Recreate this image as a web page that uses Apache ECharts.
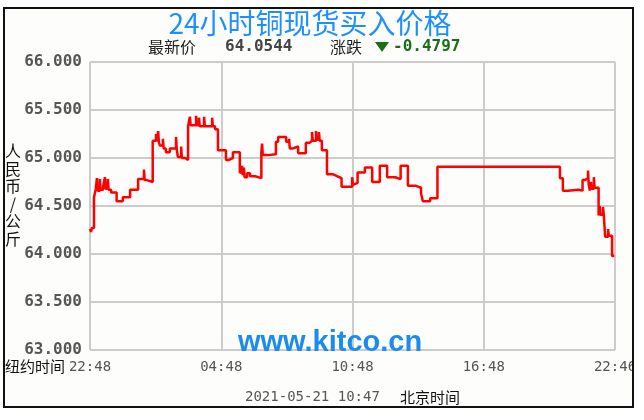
<!DOCTYPE html>
<html><head><meta charset="utf-8">
<script src="https://cdn.jsdelivr.net/npm/echarts@6/dist/echarts.min.js"></script>
<style>html,body{margin:0;padding:0;background:#fff}#c{width:644px;height:420px}</style>
</head><body><div id="c"></div>
<script>
// minutes since 22:48 (New York time axis start)
const times = [0,3,5,11,16,19,21,27,29,36,41,43,49,51,58,73,90,110,132,148,150,156,172,181,183,187,189,192,200,202,208,219,236,238,241,250,252,261,269,274,276,291,293,299,301,313,315,335,337,343,351,373,381,392,411,417,419,422,424,431,439,453,470,472,474,488,510,516,538,546,548,557,571,592,603,609,611,620,622,628,630,636,650,667,678,690,719,721,724,734,754,774,795,815,837,852,872,894,908,913,933,953,1289,1297,1311,1339,1351,1358,1366,1368,1371,1374,1376,1382,1384,1395,1398,1400,1407,1409,1413,1421,1423,1432,1438];
const prices = [64.26,64.23,64.27,64.59,64.68,64.79,64.66,64.78,64.67,64.70,64.80,64.68,64.78,64.67,64.64,64.55,64.59,64.67,64.78,64.88,64.77,64.75,65.18,65.25,65.17,65.28,65.16,65.13,65.20,65.10,65.06,65.10,65.22,65.09,65.01,65.12,65.00,64.98,65.33,65.43,65.34,65.44,65.34,65.42,65.33,65.43,65.33,65.42,65.33,65.30,65.08,64.98,65.00,65.06,64.85,64.92,64.82,64.90,64.80,64.84,64.81,64.79,65.06,65.15,65.03,65.04,65.17,65.22,65.17,65.20,65.10,65.12,65.05,65.16,65.18,65.27,65.18,65.28,65.19,65.27,65.18,65.08,64.83,64.81,64.79,64.70,64.80,64.72,64.74,64.85,64.90,64.75,64.92,64.80,64.78,64.92,64.71,64.69,64.63,64.55,64.58,64.91,64.79,64.66,64.67,64.66,64.77,64.79,64.87,64.72,64.66,64.75,64.68,64.80,64.69,64.40,64.50,64.41,64.49,64.42,64.18,64.26,64.19,63.98,63.98];
const xTickLabels = ['22:48','04:48','10:48','16:48','22:46'];
const yTicks = [63,63.5,64,64.5,65,65.5,66];
const titleText = '24小时铜现货买入价格';
const latestLabel = '最新价';
const latestValue = '64.0544';
const changeLabel = '涨跌';
const changeValue = '-0.4797';
const yName = '人民币/公斤';
const nyLabel = '纽约时间';
const stampText = '2021-05-21 10:47';
const bjLabel = '北京时间';
const watermark = 'www.kitco.cn';

const chart = echarts.init(document.getElementById('c'), null, {renderer:'canvas'});
const data = times.map((t,i)=>[t,prices[i]]);
const mono = '"DejaVu Sans Mono", monospace';
const cjk = '"Noto Sans CJK SC", sans-serif';
chart.setOption({
  animation:false,
  backgroundColor:'#fdfdfc',
  grid:{left:90,right:29,top:62,bottom:70},
  xAxis:{type:'value',min:0,max:1440,interval:360,
    axisLine:{show:false},axisTick:{show:false},
    splitLine:{show:true,lineStyle:{color:'#cccccc',width:2}},
    axisLabel:{margin:10,color:'#555',fontFamily:mono,fontSize:14,
      formatter:v=>xTickLabels[Math.round(v/360)]}},
  yAxis:{type:'value',min:yTicks[0],max:yTicks[yTicks.length-1],interval:0.5,
    axisLine:{show:false},axisTick:{show:false},
    splitLine:{show:true,lineStyle:{color:'#cccccc',width:2}},
    axisLabel:{margin:8,color:'#555',fontFamily:mono,fontWeight:'bold',fontSize:16,
      formatter:v=>v.toFixed(3)}},
  series:[{type:'line',step:'end',data:data,showSymbol:false,
    lineStyle:{color:'#ff0000',width:2.5},z:5}],
  graphic:[
    {type:'text',x:310,y:23,style:{text:titleText,font:'28px '+cjk,fill:'#1e8fff',textAlign:'center',textVerticalAlign:'middle'},z:50},
    {type:'text',x:148,y:47,style:{text:latestLabel,font:'16px '+cjk,fill:'#222',textVerticalAlign:'middle'},z:50},
    {type:'text',x:225,y:47,style:{text:latestValue,font:'bold 16px '+mono,fill:'#444',textVerticalAlign:'middle'},z:50},
    {type:'text',x:330,y:47,style:{text:changeLabel,font:'16px '+cjk,fill:'#222',textVerticalAlign:'middle'},z:50},
    {type:'polygon',shape:{points:[[375,42],[389,42],[382,52]]},style:{fill:'#1a6e1a'},z:50},
    {type:'text',x:393,y:47,style:{text:changeValue,font:'bold 16px '+mono,fill:'#1a6e1a',textVerticalAlign:'middle'},z:50},
    {type:'text',x:13,y:195,style:{text:yName.split('').join('\n'),font:'16px '+cjk,lineHeight:17.5,fill:'#111',textAlign:'center',textVerticalAlign:'middle'},z:50},
    {type:'text',x:5,y:366,style:{text:nyLabel,font:'15px '+cjk,fill:'#111',textVerticalAlign:'middle'},z:50},
    {type:'text',x:330,y:343,style:{text:watermark,font:'bold 29px "Liberation Sans", Arial, sans-serif',fill:'#1a8cf0',textAlign:'center',textVerticalAlign:'middle'},z:50},
    {type:'text',x:245,y:397,style:{text:stampText,font:'14px '+mono,fill:'#555',textVerticalAlign:'middle'},z:50},
    {type:'text',x:400,y:397,style:{text:bjLabel,font:'15px '+cjk,fill:'#111',textVerticalAlign:'middle'},z:50},
    {type:'rect',shape:{x:634,y:0,width:10,height:420},style:{fill:'#fff'},z:100},
    {type:'rect',shape:{x:0,y:408,width:644,height:12},style:{fill:'#fff'},z:100},
    {type:'rect',shape:{x:0,y:0,width:644,height:7},style:{fill:'#fff'},z:100},
    {type:'rect',shape:{x:0,y:0,width:3,height:420},style:{fill:'#fff'},z:100},
    {type:'rect',shape:{x:4,y:8,width:629,height:399},style:{fill:'none',stroke:'#111',lineWidth:2},z:101}
  ]
});
</script></body></html>
